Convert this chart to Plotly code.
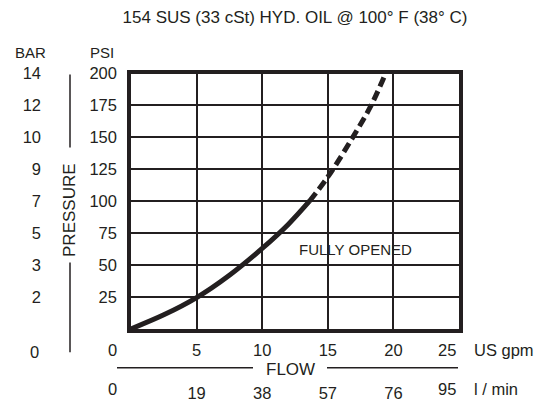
import plotly.graph_objects as go

# ------------------------------------------
# DATA
# ------------------------------------------
GPM_SOLID = [0, 2.5, 5, 7.5, 10, 12, 13.6]
PSI_SOLID = [0, 11, 24.5, 42, 63, 82, 100]
GPM_DASH = [13.6, 15, 16.9, 18.3, 19.4]
PSI_DASH = [100, 119, 150, 175, 200]

PSI_TICKS = [25, 50, 75, 100, 125, 150, 175, 200]
BAR_TICKS = ["2", "3", "5", "7", "9", "10", "12", "14"]
GPM_TICKS = [5, 10, 15, 20]
LPM_TICKS = ["19", "38", "57", "76"]
GPM_END = ["0", "25"]
LPM_END = ["0", "95"]

TITLE = "154 SUS (33 cSt) HYD. OIL @ 100° F (38° C)"

# ------------------------------------------
# STYLE
# ------------------------------------------
OFF = 8                       # default body margin of the html page
W, H = 546 - OFF, 402 - OFF   # figure size inside the window
FONT = "Liberation Sans, Arial, sans-serif"
INK = "#231f20"
X0, X1 = 131, 459             # plot area in window px
Y0, Y1 = 66, 328


def px(x):
    return (x - OFF) / W


def py(y):
    return 1 - (y - OFF) / H


fig = go.Figure()

fig.add_trace(go.Scatter(
    x=GPM_SOLID, y=PSI_SOLID, mode="lines",
    line=dict(color=INK, width=5, shape="spline", smoothing=1),
    showlegend=False, hoverinfo="skip"
))
fig.add_trace(go.Scatter(
    x=GPM_DASH, y=PSI_DASH, mode="lines",
    line=dict(color=INK, width=5, shape="spline", smoothing=1, dash="10px,5px"),
    showlegend=False, hoverinfo="skip"
))
# dummy traces so the extra axes get drawn
fig.add_trace(go.Scatter(x=[None], y=[None], xaxis="x2", yaxis="y", showlegend=False))
fig.add_trace(go.Scatter(x=[None], y=[None], xaxis="x", yaxis="y2", showlegend=False))

tickfont = dict(family=FONT, size=16.5, color=INK)

fig.update_layout(
    width=W, height=H,
    margin=dict(l=0, r=0, t=0, b=0),
    paper_bgcolor="white", plot_bgcolor="white",
    font=dict(family=FONT, color=INK),
    xaxis=dict(
        domain=[px(X0), px(X1)], range=[0, 25], anchor="y",
        tickvals=GPM_TICKS, ticks="", ticklabelstandoff=4, tickfont=tickfont,
        showgrid=True, gridcolor=INK, gridwidth=1.5, zeroline=False,
        showline=True, linecolor=INK, linewidth=3.5, mirror=True,
        fixedrange=True,
    ),
    xaxis2=dict(
        overlaying="x", range=[0, 25], anchor="free", position=py(380), side="bottom",
        tickvals=GPM_TICKS, ticktext=LPM_TICKS, ticks="", ticklabelstandoff=2,
        tickfont=tickfont, showgrid=False, zeroline=False, showline=False,
        fixedrange=True,
    ),
    yaxis=dict(
        domain=[py(Y1), py(Y0)], range=[0, 200], anchor="x",
        tickvals=PSI_TICKS, ticks="", ticklabelstandoff=7, tickfont=tickfont,
        showgrid=True, gridcolor=INK, gridwidth=1.5, zeroline=False,
        showline=True, linecolor=INK, linewidth=3.5, mirror=True,
        fixedrange=True,
    ),
    yaxis2=dict(
        overlaying="y", range=[0, 200], anchor="free", position=px(41), side="left",
        tickvals=PSI_TICKS, ticktext=BAR_TICKS, ticks="", ticklabelstandoff=0,
        tickfont=tickfont, showgrid=False, zeroline=False, showline=False,
        fixedrange=True,
    ),
    title=dict(
        text=TITLE, x=px((X0 + X1) / 2), xanchor="center",
        y=py(17), yanchor="middle", font=dict(family=FONT, size=17, color=INK),
    ),
)


def note(x, y, text, xref="paper", yref="paper", xanchor="center", size=16.5, **kw):
    return dict(x=x, y=y, xref=xref, yref=yref, text=text, showarrow=False,
                xanchor=xanchor, yanchor="middle",
                font=dict(family=FONT, size=size, color=INK), **kw)


ann = []
# end labels of the flow scales (shifted left like the original)
for xv, g, l, sh in [(0, GPM_END[0], LPM_END[0], -18), (25, GPM_END[1], LPM_END[1], -12)]:
    ann.append(note(xv, py(350), g, xref="x", xshift=sh))
    ann.append(note(xv, py(390), l, xref="x", xshift=sh))
ann += [
    note(px(41), py(352), "0", xanchor="right"),
    note(px(30), py(44), "BAR", size=15),
    note(px(102), py(44), "PSI", size=15),
    note(px(70), py(206), "PRESSURE", size=17, textangle=-90),
    note(px(290), py(370), "FLOW", size=17),
    note(px(472), py(350), "US gpm", xanchor="left"),
    note(px(472), py(390), "l / min", xanchor="left"),
    note(12.65, 62, "FULLY OPENED", xref="x", yref="y", xanchor="left", size=15),
]
fig.update_layout(annotations=ann)

line = dict(color=INK, width=1.5)
fig.update_layout(shapes=[
    dict(type="line", xref="paper", yref="paper", x0=px(70), x1=px(70), y0=py(67), y1=py(142), line=line),
    dict(type="line", xref="paper", yref="paper", x0=px(70), x1=px(70), y0=py(260), y1=py(352), line=line),
    dict(type="line", xref="paper", yref="paper", x0=px(117), x1=px(253), y0=py(368), y1=py(368), line=line),
    dict(type="line", xref="paper", yref="paper", x0=px(327), x1=px(458), y0=py(368), y1=py(368), line=line),
])

fig.write_html("out.html")
